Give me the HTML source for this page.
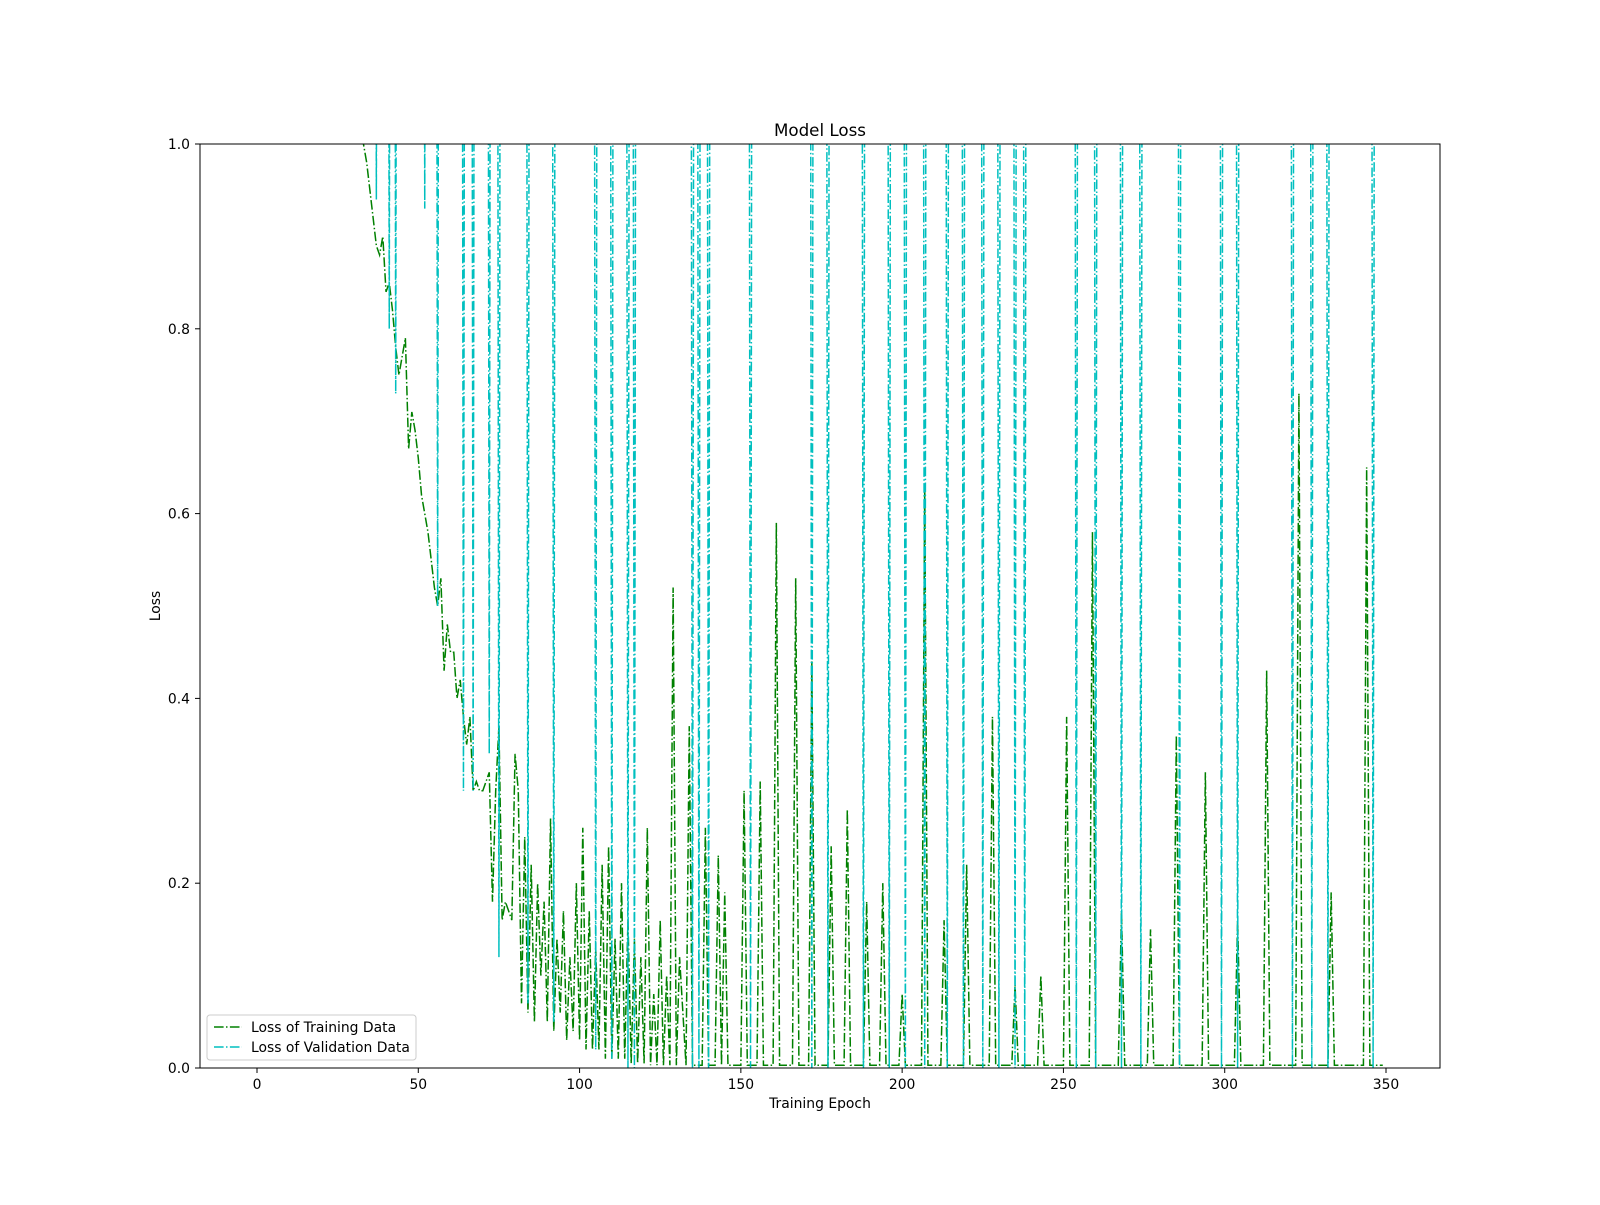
<!DOCTYPE html>
<html><head><meta charset="utf-8"><style>
html,body{margin:0;padding:0;background:#fff;}
svg text{font-family:"DejaVu Sans","Liberation Sans",sans-serif;}
</style></head><body>
<svg id="chart" width="1600" height="1200" viewBox="0 0 1600 1200" xmlns="http://www.w3.org/2000/svg">
<rect width="1600" height="1200" fill="#fff"/>
<defs><clipPath id="plotclip"><rect x="200" y="144" width="1240" height="924"/></clipPath></defs>
<text x="820" y="136" font-size="16.7" text-anchor="middle">Model Loss</text>
<text x="820" y="1108" font-size="13.9" text-anchor="middle">Training Epoch</text>
<text transform="translate(160,606) rotate(-90)" font-size="13.9" text-anchor="middle">Loss</text>
<g id="series" clip-path="url(#plotclip)"></g>
<g id="axes"></g>
<g>
<rect x="207" y="1015" width="209" height="45" fill="#fff" stroke="#ccc" rx="3"/>
<line x1="214" y1="1027" x2="242" y2="1027" stroke="#008000" stroke-width="1.5" stroke-dasharray="9.6,2.4,1.5,2.4"/>
<text x="251" y="1032" font-size="13.9">Loss of Training Data</text>
<line x1="214" y1="1047" x2="242" y2="1047" stroke="#00bfbf" stroke-width="1.5" stroke-dasharray="9.6,2.4,1.5,2.4"/>
<text x="251" y="1052" font-size="13.9">Loss of Validation Data</text>
</g>
</svg>
<script>
const trainEpochs=[0,20,33,34,35,36,37,38,39,40,41,42,43,44,45,46,47,48,49,50,51,52,53,54,55,56,57,58,59,60,61,62,63,64,65,66,67,68,69,70,71,72,73,74,75,76,77,78,79,80,81,82,83,84,85,86,87,88,89,90,91,92,93,94,95,96,97,98,99,100,101,102,103,104,105,106,107,108,109,110,111,112,113,114,115,116,117,118,119,120,121,122,123,124,125,126,127,128,
129,130,131,133,134,135,138,139,140,142,143,144,145,146,147,150,151,152,155,156,157,160,161,162,166,167,168,171,172,173,177,178,179,182,183,184,188,189,190,193,194,195,199,200,201,206,207,208,212,213,214,219,220,221,227,228,229,234,235,236,242,243,244,250,251,252,258,259,260,267,268,269,276,277,278,284,285,286,293,294,295,303,304,305,312,313,314,322,323,324,332,333,334,343,344,345,349];
const trainLoss=[3,1.5,1.0,0.98,0.95,0.92,0.89,0.88,0.9,0.84,0.85,0.82,0.78,0.75,0.77,0.79,0.67,0.71,0.69,0.66,0.62,0.6,0.58,0.55,0.52,0.5,0.53,0.43,0.48,0.45,0.45,0.4,0.42,0.38,0.35,0.38,0.3,0.31,0.3,0.3,0.31,0.32,0.18,0.3,0.37,0.16,0.18,0.17,0.16,0.34,0.3,0.07,0.25,0.06,0.22,0.05,0.2,0.1,0.18,0.05,0.27,0.04,0.14,0.06,0.17,0.03,0.12,0.04,0.2,0.03,0.26,0.02,0.17,0.02,0.13,0.02,0.22,0.01,0.24,0.01,0.14,0.01,0.2,0.01,0.16,0.005,0.14,0.005,0.12,0.005,0.26,0.003,0.08,0.003,0.16,0.003,0.1,0.003,
0.52,0.003,0.12,0.003,0.37,0.003,0.003,0.26,0.003,0.003,0.23,0.003,0.19,0.003,0.003,0.003,0.3,0.003,0.003,0.31,0.003,0.003,0.59,0.003,0.003,0.53,0.003,0.003,0.44,0.003,0.003,0.24,0.003,0.003,0.28,0.003,0.003,0.18,0.003,0.003,0.2,0.003,0.003,0.08,0.003,0.003,0.63,0.003,0.003,0.16,0.003,0.003,0.22,0.003,0.003,0.38,0.003,0.003,0.09,0.003,0.003,0.1,0.003,0.003,0.38,0.003,0.003,0.58,0.003,0.003,0.17,0.003,0.003,0.15,0.003,0.003,0.36,0.003,0.003,0.32,0.003,0.003,0.16,0.003,0.003,0.43,0.003,0.003,0.73,0.003,0.003,0.19,0.003,0.003,0.65,0.003,0.003];
const valHigh=3;
const valDipEpochs=[37,41,43,52,56,64,67,72,75,84,92,105,110,115,117,135,137,140,153,172,177,188,196,201,207,214,219,225,230,235,238,254,260,268,274,286,299,304,321,327,332,346];
const valDipValues=[0.94,0.8,0.73,0.93,0.5,0.3,0.3,0.34,0.12,0.07,0.05,0.02,0.01,0.0,0.0,0.0,0.0,0.0,0.0,0.0,0.0,0.0,0.0,0.0,0.0,0.0,0.0,0.0,0.0,0.0,0.0,0.0,0.0,0.0,0.0,0.0,0.0,0.0,0.0,0.0,0.0,0.0];
const xTicks=[0,50,100,150,200,250,300,350];
const yTicks=[0,0.2,0.4,0.6,0.8,1.0];
const NS="http://www.w3.org/2000/svg";
const xs=e=>257+e*(1386-257)/350;
const ys=v=>1068-v*924;
const series=document.getElementById('series');
function path(d,color,name){
  const p=document.createElementNS(NS,'path');
  p.setAttribute('d',d);p.setAttribute('fill','none');p.setAttribute('stroke',color);
  p.setAttribute('stroke-width','1.5');p.setAttribute('stroke-dasharray','9.6,2.4,1.5,2.4');
  
  
  series.appendChild(p);
}
let d='';
trainEpochs.forEach((e,i)=>{d+=(i?'L':'M')+xs(e).toFixed(2)+','+ys(trainLoss[i]).toFixed(2);});
let vd='M'+xs(0)+','+ys(valHigh);
valDipEpochs.forEach((e,i)=>{vd+='L'+xs(e-1).toFixed(2)+','+ys(valHigh)+'L'+xs(e).toFixed(2)+','+ys(valDipValues[i]).toFixed(2)+'L'+xs(e+1).toFixed(2)+','+ys(valHigh);});
vd+='L'+xs(349)+','+ys(valHigh);
path(d,'#008000','training-loss-line');
path(vd,'#00bfbf','validation-loss-line');
const axes=document.getElementById('axes');
const frame=document.createElementNS(NS,'rect');
frame.setAttribute('x',200);frame.setAttribute('y',144);frame.setAttribute('width',1240);frame.setAttribute('height',924);
frame.setAttribute('fill','none');frame.setAttribute('stroke','#000');frame.setAttribute('stroke-width','1');


axes.appendChild(frame);
xTicks.forEach(t=>{
  const l=document.createElementNS(NS,'line');
  l.setAttribute('x1',xs(t));l.setAttribute('x2',xs(t));l.setAttribute('y1',1068);l.setAttribute('y2',1073);l.setAttribute('stroke','#000');
  
  
  axes.appendChild(l);
  const tx=document.createElementNS(NS,'text');
  tx.setAttribute('x',xs(t));tx.setAttribute('y',1089);tx.setAttribute('font-size','13.9');tx.setAttribute('text-anchor','middle');
  tx.textContent=t;
  
  
  axes.appendChild(tx);
});
yTicks.forEach(t=>{
  const l=document.createElementNS(NS,'line');
  l.setAttribute('x1',195);l.setAttribute('x2',200);l.setAttribute('y1',ys(t));l.setAttribute('y2',ys(t));l.setAttribute('stroke','#000');
  
  
  axes.appendChild(l);
  const tx=document.createElementNS(NS,'text');
  tx.setAttribute('x',190);tx.setAttribute('y',ys(t)+5);tx.setAttribute('font-size','13.9');tx.setAttribute('text-anchor','end');
  tx.textContent=t.toFixed(1);
  
  
  axes.appendChild(tx);
});
</script>
</body></html>
